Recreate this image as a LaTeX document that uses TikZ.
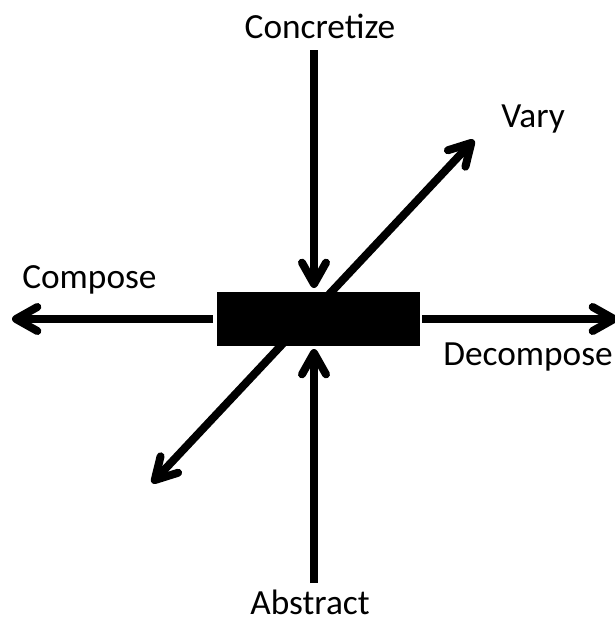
\documentclass[tikz,border=0pt]{standalone}
\usepackage{fontspec}
\setmainfont{Carlito}
\usetikzlibrary{arrows.meta}
\begin{document}
\begin{tikzpicture}[x=0.75pt,y=-0.75pt,
  arr/.style={line width=6pt,-{Straight Barb[length=16pt,width=18pt,round]}},
  darr/.style={line width=6pt,{Straight Barb[length=16pt,width=18pt,round]}-{Straight Barb[length=16pt,width=18pt,round]}},
  lbl/.style={inner sep=0pt,font=\fontsize{26.5}{30}\selectfont},
  blk/.style={fill=black,draw=none,minimum width=152.25pt,minimum height=40.5pt,inner sep=0pt}]
\useasboundingbox (0,0) rectangle (614,621);
\node[blk] (box) at (318.5,319) {};
\node[lbl,anchor=base] (conc) at (320,38) {Concretize};
\node[lbl,anchor=base] (abs) at (310,614) {Abstract};
\node[lbl,anchor=base west] (comp) at (22,288) {Compose};
\node[lbl,anchor=base west] (decomp) at (443,365) {Decompose};
\node[lbl,anchor=base west] (vary) at (501,127) {Vary};
\coordinate (ct) at (314,50);
\coordinate (ctt) at (314,288);
\coordinate (cb) at (314,583);
\coordinate (cbt) at (314,349);
\coordinate (cl) at (213,319);
\coordinate (clt) at (12,319);
\coordinate (cr) at (422,319);
\coordinate (crt) at (618,319);
\coordinate (dl) at (152,483);
\coordinate (du) at (474,140);
\draw[darr] (dl) -- (du);
\node[blk] at (box) {};
\draw[arr] (ct) -- (ctt);
\draw[arr] (cb) -- (cbt);
\draw[arr] (cl) -- (clt);
\draw[arr] (cr) -- (crt);
\end{tikzpicture}
\end{document}
